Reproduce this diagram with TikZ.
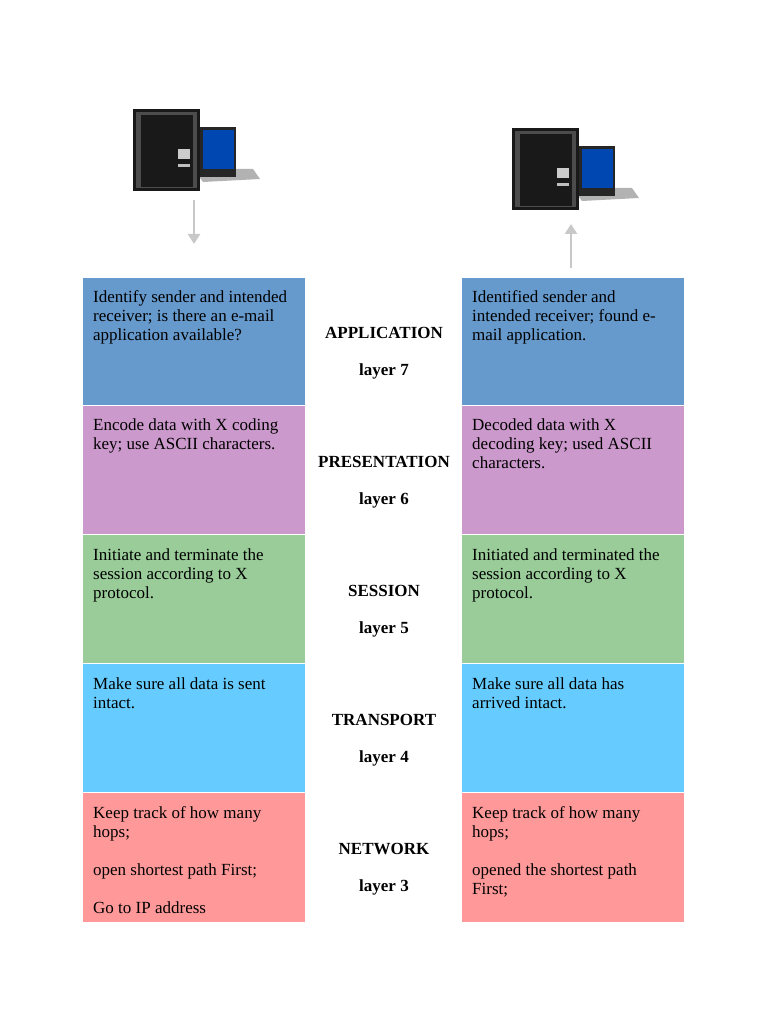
\documentclass[tikz,border=0pt]{standalone}
\usepackage{fontspec}
\setmainfont{Liberation Serif}
\usetikzlibrary{arrows.meta}
\definecolor{cA}{HTML}{6699CC}
\definecolor{cP}{HTML}{CC99CC}
\definecolor{cS}{HTML}{99CC99}
\definecolor{cT}{HTML}{66CCFF}
\definecolor{cN}{HTML}{FF9999}
\definecolor{arr}{HTML}{C8C8C8}
\begin{document}
\begin{tikzpicture}[x=1pt,y=-1pt,
  txt/.style={anchor=north west,align=left,inner sep=0pt,font=\fontsize{17}{19}\selectfont},
  lbl/.style={font=\fontsize{17}{19}\selectfont\bfseries},
  ar/.style={arr,line width=2.5pt,-{Triangle[length=10pt,width=12pt]}}]
\useasboundingbox (0,0) rectangle (768,1024);
% boxes
\foreach \c/\t/\b in {cA/277/405,cP/405/534,cS/534/663,cT/663/792,cN/792/922}{
  \fill[\c] (83,\t) rectangle (305,\b);
  \fill[\c] (462,\t) rectangle (684,\b);
  \draw[white,line width=1pt] (83,\t) -- (305,\t) (462,\t) -- (684,\t);
}
% computers
\newcommand{\pc}[2]{%
 \begin{scope}[shift={(#1,#2)}]
  \fill[gray!60] (60,62) -- (120,62) -- (127,72) -- (70,75) -- cycle;
  \fill[black!85] (67,20) rectangle (103,70);
  \fill[blue!60!cyan!70!black] (70,23) rectangle (101,62);
  \fill[black!90] (0,2) rectangle (67,84);
  \fill[black!70] (3,5) rectangle (64,81);
  \fill[black!90] (8,8) rectangle (60,80);
  \fill[gray!40] (45,42) rectangle (57,52);
  \fill[gray!50] (45,57) rectangle (57,60);
 \end{scope}}
\pc{133}{107}
\pc{512}{126}
\coordinate (a1) at (194,200); \coordinate (a2) at (194,244);
\coordinate (b1) at (571,268); \coordinate (b2) at (571,224);
\draw[ar] (a1) -- (a2);
\draw[ar] (b1) -- (b2);
% left texts
\node[txt] (l1) at (93,290) {Identify sender and intended\\receiver; is there an e-mail\\application available?};
\node[txt] (l2) at (93,419) {Encode data with X coding\\key; use ASCII characters.};
\node[txt] (l3) at (93,548) {Initiate and terminate the\\session according to X\\protocol.};
\node[txt] (l4) at (93,677) {Make sure all data is sent\\intact.};
\node[txt] (l5) at (93,806) {Keep track of how many\\hops;\\[19pt]open shortest path First;\\[19pt]Go to IP address};
% right texts
\node[txt] (r1) at (472,290) {Identified sender and\\intended receiver; found e-\\mail application.};
\node[txt] (r2) at (472,419) {Decoded data with X\\decoding key; used ASCII\\characters.};
\node[txt] (r3) at (472,548) {Initiated and terminated the\\session according to X\\protocol.};
\node[txt] (r4) at (472,677) {Make sure all data has\\arrived intact.};
\node[txt] (r5) at (472,806) {Keep track of how many\\hops;\\[19pt]opened the shortest path\\First;};
% center labels
\foreach \n/\l/\y in {APPLICATION/7/333,PRESENTATION/6/462,SESSION/5/591,TRANSPORT/4/720,NETWORK/3/849}{
  \node[lbl] at (384,\y) {\n};
  \node[lbl] at (384,\y+38) {layer \l};
}
\end{tikzpicture}
\end{document}
